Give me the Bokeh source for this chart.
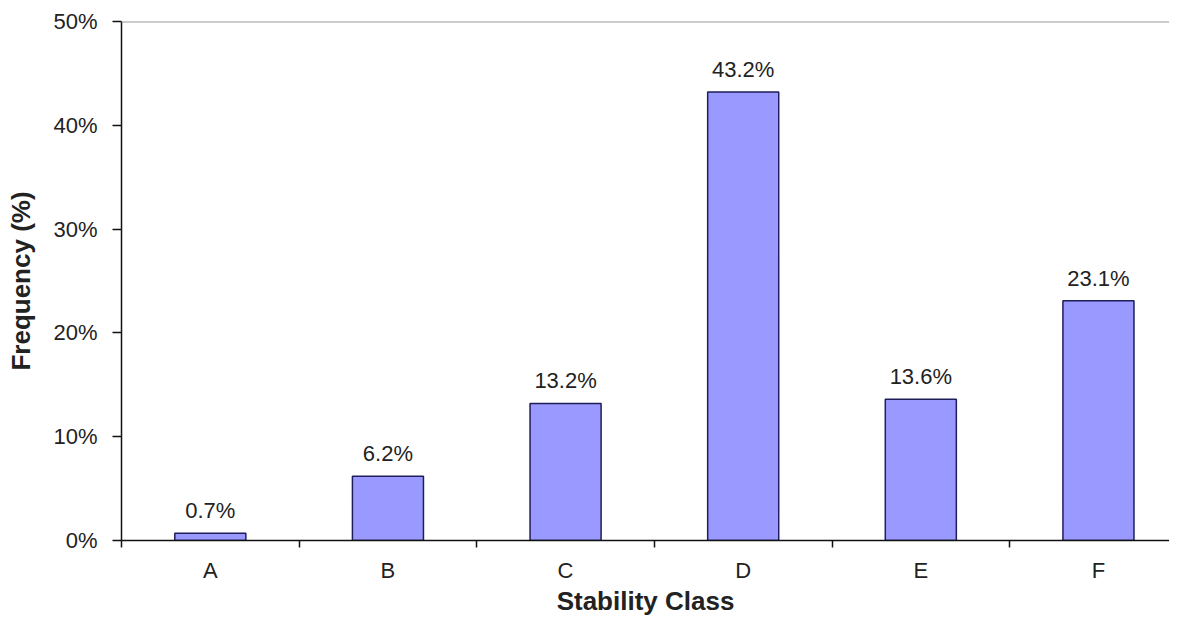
from bokeh.plotting import figure
from bokeh.models import (ColumnDataSource, Range1d, FixedTicker, PrintfTickFormatter,
                          LabelSet, Span)
from bokeh.core.properties import value
from bokeh.embed import file_html
from bokeh.resources import INLINE

# ---- data ----
categories = ["A", "B", "C", "D", "E", "F"]
frequency = [0.7, 6.2, 13.2, 43.2, 13.6, 23.1]
y_ticks = [0, 10, 20, 30, 40, 50]

centers = [i + 0.5 for i in range(len(categories))]
labels = [f"{v:.1f}%" for v in frequency]
src = ColumnDataSource(dict(x=centers, top=frequency, label=labels))

FONT = "Liberation Sans"
TXT = "#222222"

p = figure(width=1169, height=619, output_backend="svg", toolbar_location=None,
           x_range=Range1d(0, 5.90), y_range=Range1d(0, 50),
           min_border_left=121, min_border_right=0, min_border_top=21,
           min_border_bottom=79)
p.outline_line_color = None
p.xgrid.visible = False
p.ygrid.visible = False
p.background_fill_color = "white"

p.vbar(x="x", top="top", width=0.4, bottom=0, source=src,
       fill_color="#9999FF", line_color="#1E1E5A", line_width=1.5)

p.add_layout(LabelSet(x="x", y="top", text="label", source=src, y_offset=15,
                      text_align="center", text_baseline="alphabetic",
                      text_font=value(FONT), text_font_size="22px", text_color=TXT))

p.add_layout(Span(location=50, dimension="width", line_color="#9a9a9a", line_width=2))

# y axis
ya = p.yaxis[0]
ya.ticker = FixedTicker(ticks=y_ticks)
ya.formatter = PrintfTickFormatter(format="%d%%")
ya.axis_label = "Frequency (%)"
ya.axis_label_text_font = FONT
ya.axis_label_text_font_style = "bold"
ya.axis_label_text_font_size = "26px"
ya.axis_label_text_color = TXT
ya.axis_label_standoff = 14
ya.major_label_text_font = FONT
ya.major_label_text_font_size = "22px"
ya.major_label_text_color = TXT
ya.major_label_standoff = 15
ya.major_tick_out = 9
ya.major_tick_in = 0
ya.minor_tick_out = 0
ya.minor_tick_in = 0
ya.axis_line_color = "#111111"
ya.axis_line_width = 1.5
ya.major_tick_line_color = "#111111"
ya.major_tick_line_width = 1.5

# x axis
xa = p.xaxis[0]
xa.ticker = FixedTicker(ticks=centers, minor_ticks=list(range(len(categories) + 1)))
xa.major_label_overrides = {c: cat for c, cat in zip(centers, categories)}
xa.axis_label = "Stability Class"
xa.axis_label_text_font = FONT
xa.axis_label_text_font_style = "bold"
xa.axis_label_text_font_size = "26px"
xa.axis_label_text_color = TXT
xa.axis_label_standoff = 0
xa.major_label_text_font = FONT
xa.major_label_text_font_size = "22px"
xa.major_label_text_color = TXT
xa.major_label_standoff = 10
xa.major_tick_out = 0
xa.major_tick_in = 0
xa.minor_tick_out = 7
xa.minor_tick_in = 0
xa.axis_line_color = "#111111"
xa.axis_line_width = 1.5
xa.minor_tick_line_color = "#111111"
xa.minor_tick_line_width = 1.5

open("out.html", "w").write(file_html(p, INLINE))
